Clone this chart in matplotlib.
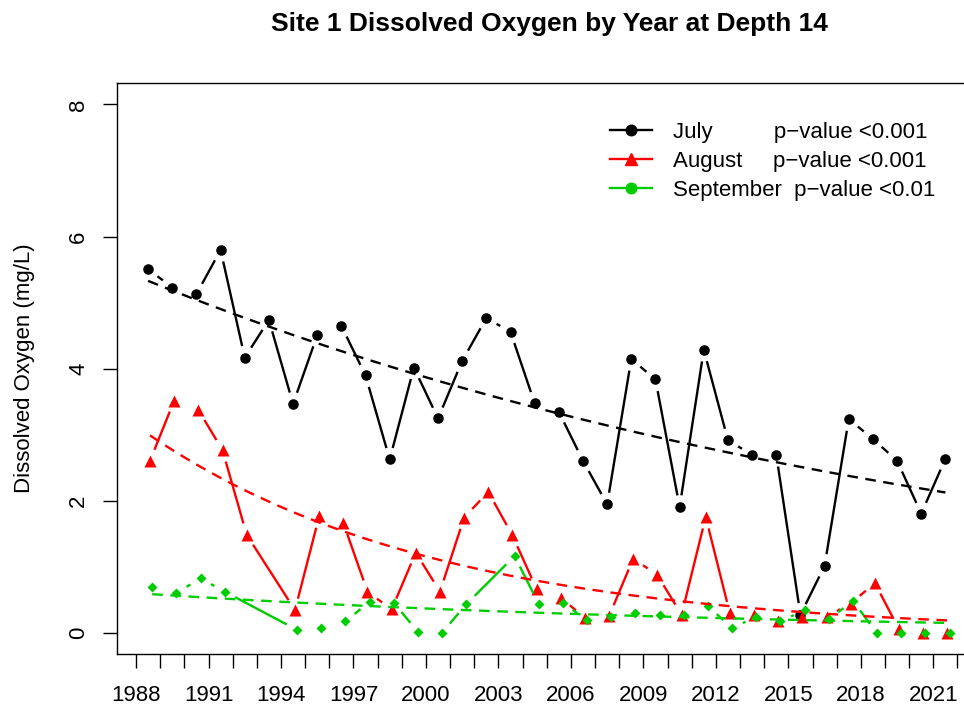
import numpy as np
import matplotlib
matplotlib.use("Agg")
import matplotlib.pyplot as plt
from matplotlib.lines import Line2D

plt.rcParams['font.family'] = ['Liberation Sans', 'DejaVu Sans']

# dissolved oxygen (mg/L) at depth 14
jul_years = list(range(1988, 2022))
jul_do = [5.51, 5.23, 5.13, 5.80, 4.17, 4.74, 3.47, 4.51, 4.65, 3.90,
          2.63, 4.02, 3.25, 4.12, 4.77, 4.56, 3.48, 3.35, 2.61, 1.95,
          4.15, 3.84, 1.91, 4.29, 2.92, 2.70, 2.70, 0.28, 1.02, 3.24,
          2.94, 2.61, 1.81, 2.64]

aug_years = [1988, 1989, 1990, 1991, 1992] + list(range(1994, 2022))
aug_do = [2.61, 3.52, 3.38, 2.77, 1.49, 0.35, 1.77, 1.67, 0.63, 0.36,
          1.22, 0.63, 1.75, 2.14, 1.48, 0.67, 0.54, 0.23, 0.26, 1.13,
          0.88, 0.28, 1.76, 0.30, 0.28, 0.18, 0.25, 0.25, 0.45, 0.76,
          0.06, 0.00, 0.01]

sep_years = [1988, 1989, 1990, 1991] + list(range(1994, 2002)) + list(range(2003, 2022))
sep_do = [0.70, 0.61, 0.83, 0.63, 0.05, 0.08, 0.18, 0.48, 0.46, 0.02,
          0.01, 0.44, 1.17, 0.44, 0.46, 0.20, 0.25, 0.30, 0.27, 0.28,
          0.41, 0.08, 0.25, 0.18, 0.35, 0.21, 0.49, 0.00, 0.01, 0.00,
          0.00]

# sampling date as fraction of the year (first of the month)
month_frac = {"July": 0.5, "August": 0.58, "September": 0.67}

p_labels = ["July          p\u2212value <0.001",
            "August     p\u2212value <0.001",
            "September  p\u2212value <0.01"]

tick_years = list(range(1988, 2023))
label_years = list(range(1988, 2022, 3))


def exp_fit(t, y):
    # least squares fit of y = a * exp(b * (t - t0))
    t0 = t.min()
    tt = t - t0
    best = None
    for b in np.linspace(-0.3, 0.1, 4001):
        e = np.exp(b * tt)
        a = (y * e).sum() / (e * e).sum()
        sse = ((y - a * e) ** 2).sum()
        if best is None or sse < best[0]:
            best = (sse, a, b)
    return best[1], best[2], t0


def plot_b(ax, x, y, color, marker, ms, gap=13):
    # lines with gaps around the points, like R's type = "b"
    pts = ax.transData.transform(np.column_stack([x, y]))
    inv = ax.transData.inverted()
    for (x0, y0), (x1, y1) in zip(pts[:-1], pts[1:]):
        d = np.hypot(x1 - x0, y1 - y0)
        if d > 2 * gap:
            ux, uy = (x1 - x0) / d * gap, (y1 - y0) / d * gap
            seg = inv.transform([[x0 + ux, y0 + uy], [x1 - ux, y1 - uy]])
            ax.plot(seg[:, 0], seg[:, 1], color=color, lw=1.7)
    ax.plot(x, y, ls='none', marker=marker, ms=ms, color=color, mec='none')


fig = plt.figure(figsize=(9.64, 7.07), dpi=100)
ax = fig.add_axes([0.1214, 0.0750, 0.8969, 0.8081])
ax.set_xlim(1987.214, 2023.0)
ax.set_ylim(-0.313, 8.33)

series = [
    (jul_years, jul_do, "July", "black", "o", 7.6),
    (aug_years, aug_do, "August", "red", "^", 8.8),
    (sep_years, sep_do, "September", "#00CD00", "D", 4.8),
]

for yrs, vals, name, col, mk, ms in series:
    x = np.array(yrs) + month_frac[name]
    plot_b(ax, x, np.array(vals), col, mk, ms)

for yrs, vals, name, col, mk, ms in series:
    x = np.array(yrs) + month_frac[name]
    a, b, t0 = exp_fit(x, np.array(vals))
    xs = np.linspace(x.min(), x.max(), 200)
    ax.plot(xs, a * np.exp(b * (xs - t0)), color=col, lw=1.7,
            dashes=(4.5, 3.2))

ax.set_xticks(tick_years)
ax.set_xticklabels([str(y) if y in label_years else "" for y in tick_years])
ax.set_yticks([0, 2, 4, 6, 8])
ax.set_yticklabels(["0", "2", "4", "6", "8"], rotation=90, va='center')
ax.tick_params(axis='both', direction='out', length=10, width=1.0,
               labelsize=16)
ax.tick_params(axis='x', pad=12.5)
ax.tick_params(axis='y', pad=10)
for s in ax.spines.values():
    s.set_linewidth(1.0)

ax.set_ylabel("Dissolved Oxygen (mg/L)", fontsize=16)
ax.yaxis.set_label_coords(-0.095, 0.5)
ax.set_title("Site 1 Dissolved Oxygen by Year at Depth 14",
             fontsize=19, fontweight='bold', pad=37)

handles = [
    Line2D([], [], color="black", marker="o", ms=7.6, lw=1.7),
    Line2D([], [], color="red", marker="^", ms=8.8, lw=1.7),
    Line2D([], [], color="#00CD00", marker="o", ms=7.6, lw=1.7),
]
ax.legend(handles, p_labels, loc='upper left',
          bbox_to_anchor=(0.570, 0.931), frameon=False, fontsize=16,
          borderpad=0, borderaxespad=0, handlelength=1.9,
          handletextpad=0.95, labelspacing=0.36)

fig.savefig("out.png", dpi=100)
